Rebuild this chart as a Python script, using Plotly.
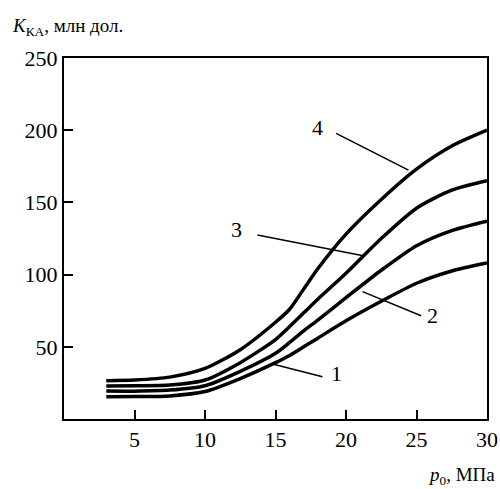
import plotly.graph_objects as go

x_vals = [3, 5, 7.5, 10, 12.5, 15, 16, 17, 18, 20, 22.5, 25, 27.5, 30]
curve1 = [15.4, 15.5, 16, 19, 28, 39, 44, 50, 56, 68, 81.5, 94, 102.5, 108]
curve2 = [19.4, 19.3, 20, 23, 33, 45.5, 53, 61, 68.5, 84, 103, 120, 130.5, 137]
curve3 = [22.9, 23, 23.5, 27, 39, 55, 64, 73.5, 83, 101, 125, 146, 158.5, 165]
curve4 = [26.5, 27, 29, 35, 48, 67, 76, 90, 104, 128, 152, 173, 189, 200]
series = [curve1, curve2, curve3, curve4]

x_ticks = [5, 10, 15, 20, 25, 30]
y_ticks = [50, 100, 150, 200, 250]

labels = ["1", "2", "3", "4"]
label_pos = [(19.3, 31.2), (26.11, 71.5), (12.23, 130.9), (17.98, 202)]
leaders = [((14.79, 38.1), (18.33, 29.3)),
           ((21.17, 88.2), (25.33, 71.5)),
           ((13.72, 127.4), (21.31, 112.9)),
           ((19.3, 197.8), (24.43, 172.4))]

FONT = "Liberation Serif, Times New Roman, serif"

fig = go.Figure()
for s in series:
    fig.add_trace(go.Scatter(x=x_vals, y=s, mode="lines",
                             line=dict(color="black", width=3.5, shape="spline", smoothing=0.7),
                             showlegend=False, hoverinfo="skip"))

for (p0, p1) in leaders:
    fig.add_shape(type="line", x0=p0[0], y0=p0[1], x1=p1[0], y1=p1[1],
                  xref="x", yref="y", line=dict(color="black", width=1.5))

for t, (lx, ly) in zip(labels, label_pos):
    fig.add_annotation(x=lx, y=ly, text=t, showarrow=False, xref="x", yref="y",
                       font=dict(family=FONT, size=22, color="black"))

# plot area: px 64..487 horizontally, py 58..419 vertically
fig.add_annotation(x=(10 - 64) / 423, y=(419 - 27) / 361, xref="paper", yref="paper",
                   text="<i>K</i><sub>КА</sub>, млн дол.", showarrow=False,
                   xanchor="left", yanchor="middle",
                   font=dict(family=FONT, size=19, color="black"))
fig.add_annotation(x=(497 - 64) / 423, y=(419 - 476) / 361, xref="paper", yref="paper",
                   text="<i>p</i><sub>0</sub>, МПа", showarrow=False,
                   xanchor="right", yanchor="middle",
                   font=dict(family=FONT, size=19, color="black"))

axis_common = dict(showgrid=False, zeroline=False, showline=True, linecolor="black",
                   linewidth=2, mirror=True, ticks="inside", ticklen=9, tickwidth=2,
                   tickcolor="black", automargin=False,
                   tickfont=dict(family=FONT, size=22, color="black"))

fig.update_xaxes(range=[0, 30], tickvals=x_ticks, **axis_common)
fig.update_yaxes(range=[0, 250], tickvals=y_ticks, **axis_common)

fig.update_layout(width=500, height=489, plot_bgcolor="white", paper_bgcolor="white",
                  margin=dict(l=64, r=13, t=58, b=70, autoexpand=False))

fig.write_html("out.html")
